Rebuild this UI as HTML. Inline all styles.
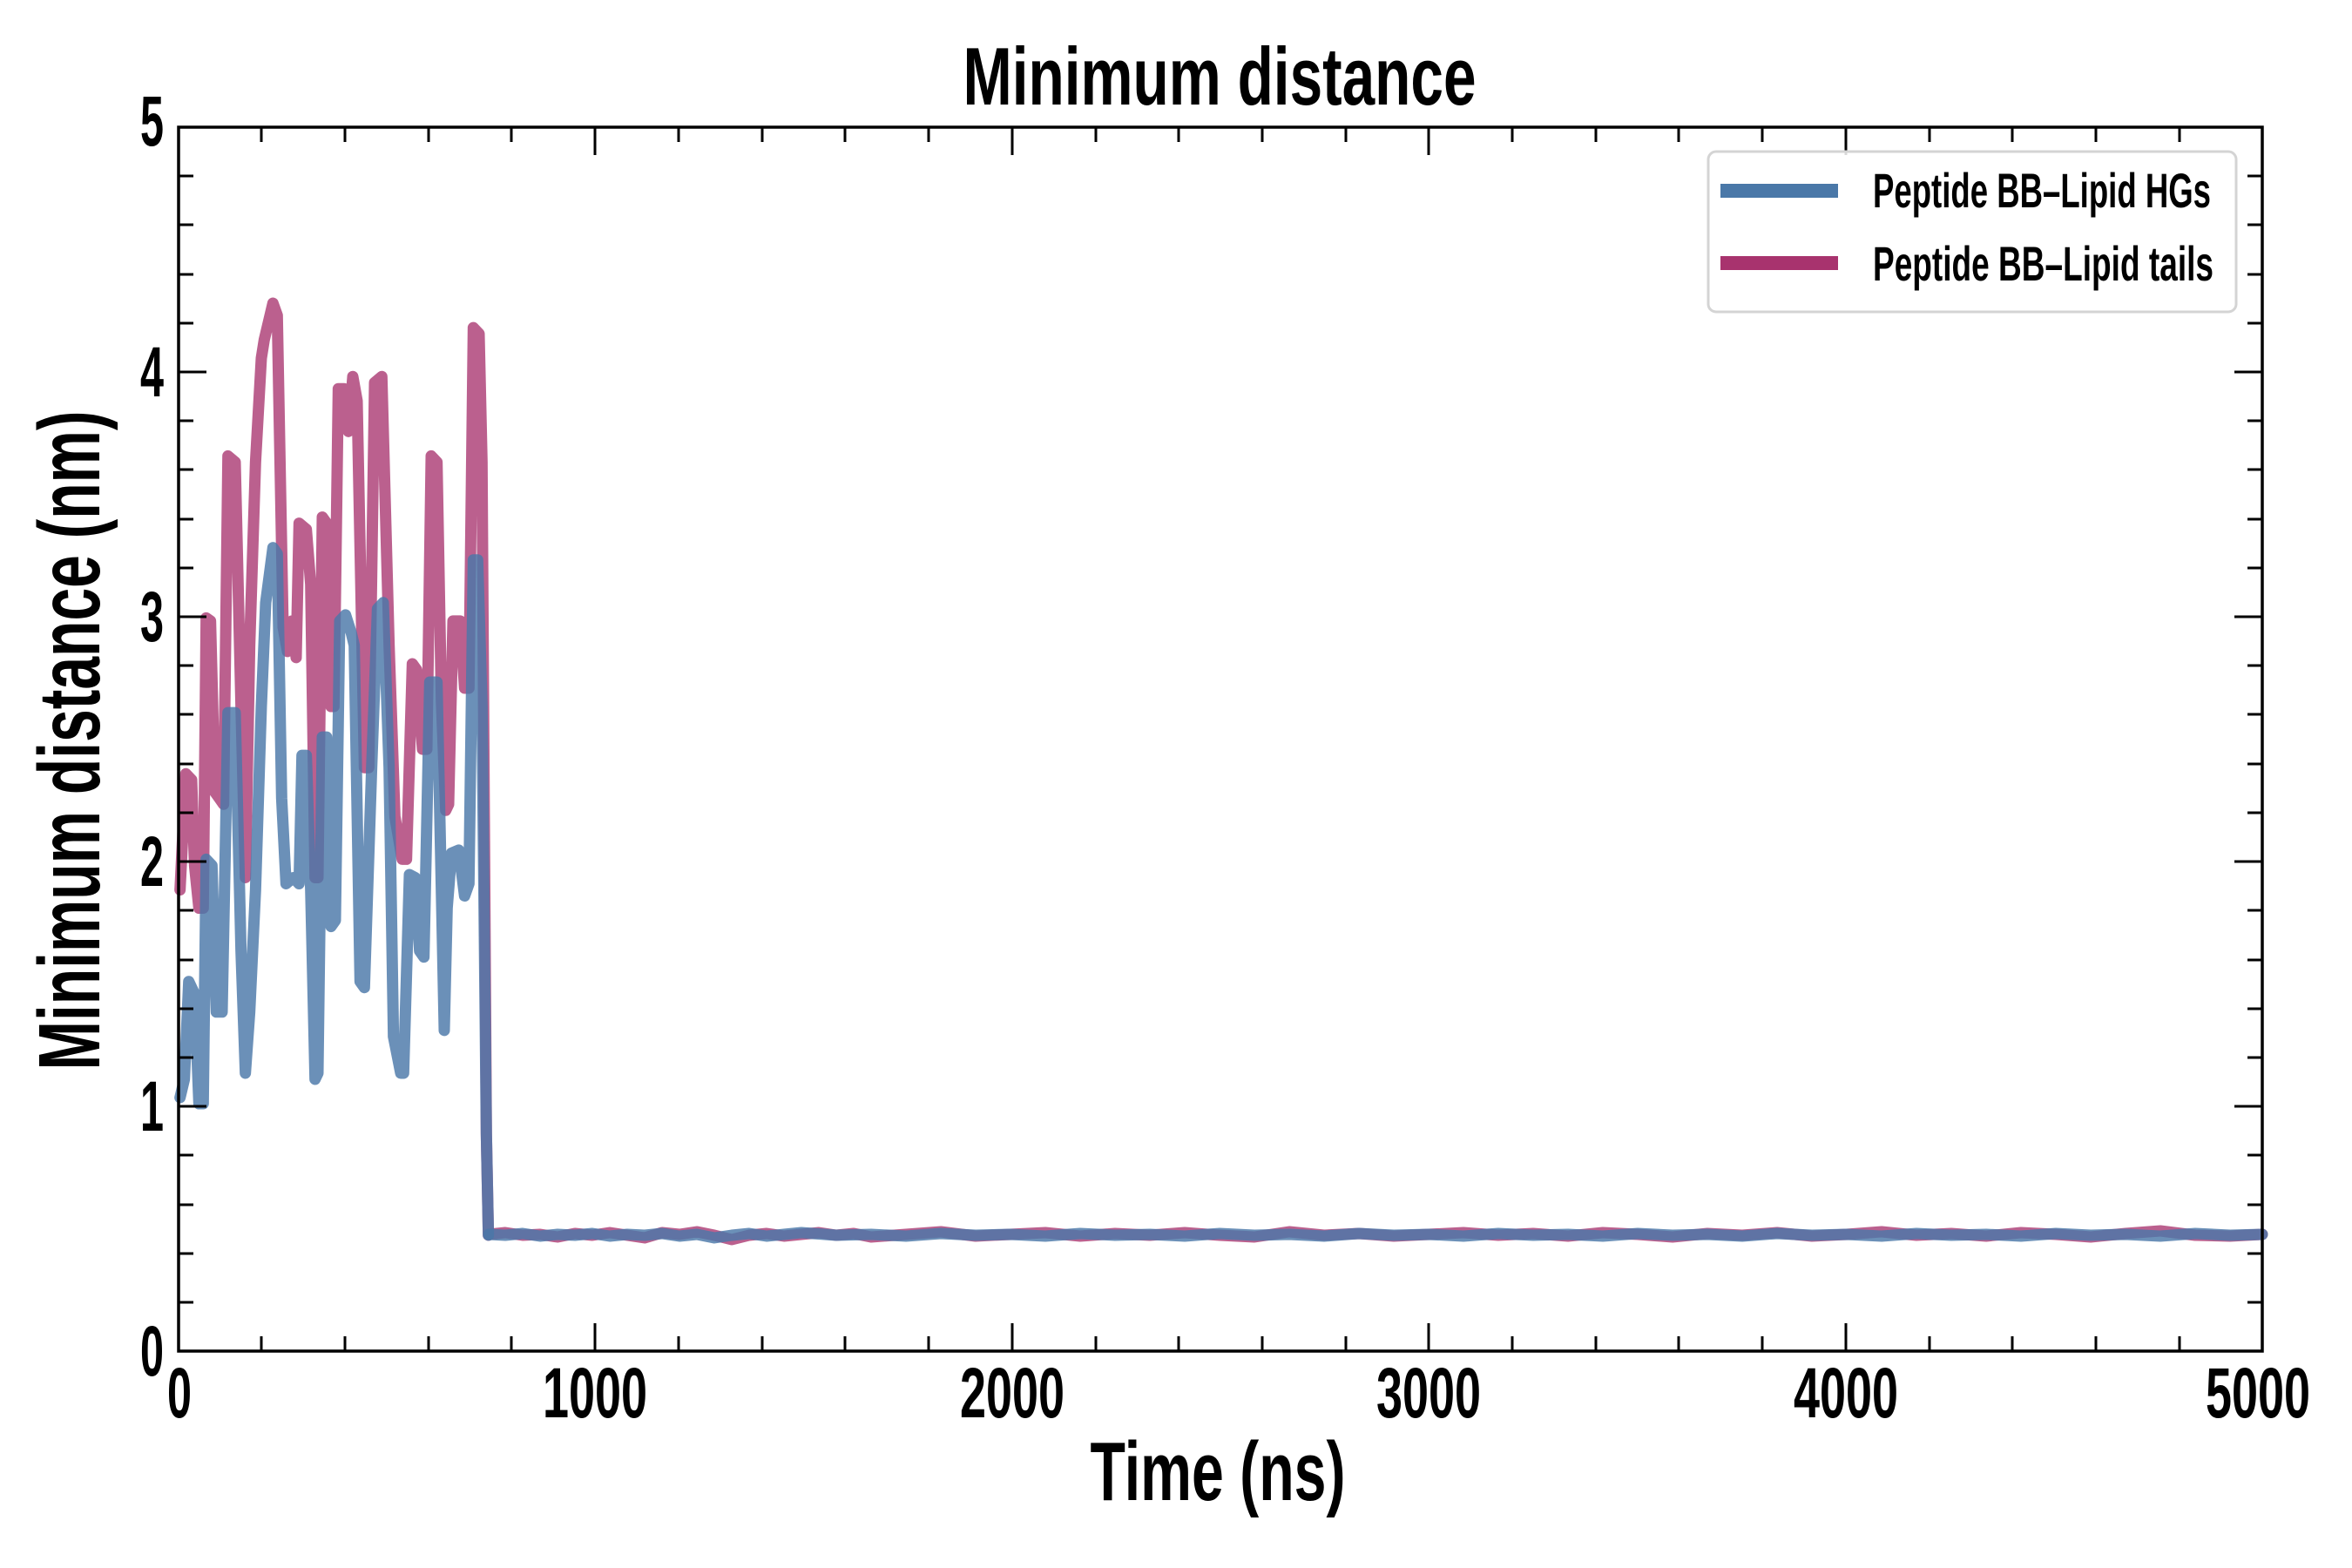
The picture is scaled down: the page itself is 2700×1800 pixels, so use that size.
<!DOCTYPE html>
<html><head><meta charset="utf-8"><style>
html,body{margin:0;padding:0;background:#fff;}
svg{display:block;}
text{font-family:"Liberation Sans",sans-serif;font-weight:bold;fill:#000;}
</style></head><body>
<svg width="2700" height="1800" viewBox="0 0 2700 1800" xmlns="http://www.w3.org/2000/svg">
<rect width="2700" height="1800" fill="#fff"/>
<text x="1400" y="120" font-size="94" text-anchor="middle" textLength="589" lengthAdjust="spacingAndGlyphs">Minimum distance</text>
<text x="1398" y="1722" font-size="96" text-anchor="middle" textLength="293" lengthAdjust="spacingAndGlyphs">Time (ns)</text>
<text transform="translate(114,850) rotate(-90)" x="0" y="0" font-size="100" text-anchor="middle" textLength="757" lengthAdjust="spacingAndGlyphs">Minimum distance (nm)</text>

<g font-size="82" text-anchor="middle">
<text x="206" y="1627" textLength="28" lengthAdjust="spacingAndGlyphs">0</text>
<text x="683" y="1627" textLength="120" lengthAdjust="spacingAndGlyphs">1000</text>
<text x="1162" y="1627" textLength="120" lengthAdjust="spacingAndGlyphs">2000</text>
<text x="1640" y="1627" textLength="120" lengthAdjust="spacingAndGlyphs">3000</text>
<text x="2119" y="1627" textLength="120" lengthAdjust="spacingAndGlyphs">4000</text>
<text x="2592" y="1627" textLength="120" lengthAdjust="spacingAndGlyphs">5000</text>
</g>
<g font-size="82" text-anchor="end">
<text x="188" y="1579" textLength="27" lengthAdjust="spacingAndGlyphs">0</text>
<text x="188" y="1298" textLength="27" lengthAdjust="spacingAndGlyphs">1</text>
<text x="188" y="1017" textLength="27" lengthAdjust="spacingAndGlyphs">2</text>
<text x="188" y="736" textLength="27" lengthAdjust="spacingAndGlyphs">3</text>
<text x="188" y="455" textLength="27" lengthAdjust="spacingAndGlyphs">4</text>
<text x="188" y="167" textLength="27" lengthAdjust="spacingAndGlyphs">5</text>
</g>

<g fill="none" stroke-linejoin="round" stroke-linecap="round">
<g transform="translate(200,320) scale(0.33333,0.7015)">
<polyline vector-effect="non-scaling-stroke" stroke="#a8336e" stroke-opacity="0.78" stroke-width="13" points="20,1000 40,810 60,820 70,960 85,1030 100,1030 110,555 125,560 140,840 155,850 170,860 185,290 210,300 230,700 245,980 260,600 280,300 300,130 310,100 340,40 355,60 375,570 390,610 405,560 420,620 430,400 455,410 470,500 485,980 495,980 510,390 525,400 540,700 550,700 565,180 585,180 600,250 615,160 630,200 655,800 670,800 690,170 715,160 740,600 760,880 785,950 800,950 820,630 835,640 855,770 870,770 885,290 905,300 920,690 935,870 945,860 960,560 985,560 1000,670 1015,670 1030,80 1050,90 1060,300 1075,1400 1082,1565"/>
</g>
<polyline stroke="#a8336e" stroke-opacity="0.78" stroke-width="13" points="561,1417 580,1415 600,1418 620,1417 640,1420 660,1416 680,1418 700,1415 720,1418 740,1421 760,1415 780,1417 800,1414 820,1418 840,1423 860,1418 880,1416 900,1419 920,1417 940,1415 960,1418 980,1416 1000,1420 1040,1417 1080,1414 1120,1419 1160,1417 1200,1415 1240,1419 1280,1416 1320,1418 1360,1415 1400,1418 1440,1420 1480,1414 1520,1418 1560,1416 1600,1419 1640,1417 1680,1415 1720,1418 1760,1416 1800,1419 1840,1415 1880,1417 1920,1420 1960,1416 2000,1418 2040,1415 2080,1419 2120,1417 2160,1414 2200,1418 2240,1416 2280,1419 2320,1415 2360,1417 2400,1420 2440,1416 2480,1413 2520,1418 2560,1419 2597,1417"/>
<g transform="translate(200,320) scale(0.33333,0.7015)">
<polyline vector-effect="non-scaling-stroke" stroke="#4a78a8" stroke-opacity="0.82" stroke-width="13" points="20,1340 35,1310 50,1150 70,1170 85,1350 100,1350 110,950 130,960 145,1200 165,1200 185,710 210,710 230,1100 245,1300 260,1200 280,1000 300,700 315,530 340,440 355,450 370,850 385,990 410,980 430,990 440,780 455,780 470,1000 485,1310 495,1300 510,750 525,750 540,1060 555,1050 570,560 590,550 610,580 620,600 640,1150 655,1160 680,800 700,540 720,530 740,800 755,1240 780,1300 790,1300 810,975 830,980 845,1100 860,1110 880,660 905,660 920,1000 930,1230 940,1030 955,940 980,935 1000,1010 1015,990 1030,460 1045,460 1060,700 1075,1400 1082,1565"/>
</g>
<polyline stroke="#4a78a8" stroke-opacity="0.82" stroke-width="13" points="561,1417 580,1418 600,1416 620,1419 640,1417 660,1418 680,1416 700,1419 720,1417 740,1418 760,1416 780,1419 800,1417 820,1421 840,1418 860,1416 880,1419 900,1417 920,1415 960,1418 1000,1417 1040,1419 1080,1416 1120,1418 1160,1417 1200,1419 1240,1416 1280,1418 1320,1417 1360,1419 1400,1416 1440,1418 1480,1417 1520,1419 1560,1416 1600,1418 1640,1417 1680,1419 1720,1416 1760,1418 1800,1417 1840,1419 1880,1416 1920,1418 1960,1417 2000,1419 2040,1416 2080,1418 2120,1417 2160,1419 2200,1416 2240,1418 2280,1417 2320,1419 2360,1416 2400,1418 2440,1417 2480,1419 2520,1416 2560,1418 2597,1417"/>
</g>

<g stroke="#000" stroke-width="3">
<path d="M683,1551v-32M1162,1551v-32M1640,1551v-32M2119,1551v-32M683,146v32M1162,146v32M1640,146v32M2119,146v32"/>
<path d="M300,1551v-17M396,1551v-17M492,1551v-17M587,1551v-17M779,1551v-17M875,1551v-17M970,1551v-17M1066,1551v-17M1258,1551v-17M1353,1551v-17M1449,1551v-17M1545,1551v-17M1736,1551v-17M1832,1551v-17M1927,1551v-17M2023,1551v-17M2215,1551v-17M2310,1551v-17M2406,1551v-17M2502,1551v-17
M300,146v17M396,146v17M492,146v17M587,146v17M779,146v17M875,146v17M970,146v17M1066,146v17M1258,146v17M1353,146v17M1449,146v17M1545,146v17M1736,146v17M1832,146v17M1927,146v17M2023,146v17M2215,146v17M2310,146v17M2406,146v17M2502,146v17"/>
<path d="M205,1270h32M205,989h32M205,708h32M205,427h32M2597,1270h-32M2597,989h-32M2597,708h-32M2597,427h-32"/>
<path d="M205,1495h17M205,1439h17M205,1383h17M205,1326h17M205,1214h17M205,1158h17M205,1102h17M205,1045h17M205,933h17M205,877h17M205,820h17M205,764h17M205,652h17M205,596h17M205,539h17M205,483h17M205,371h17M205,315h17M205,258h17M205,202h17
M2597,1495h-17M2597,1439h-17M2597,1383h-17M2597,1326h-17M2597,1214h-17M2597,1158h-17M2597,1102h-17M2597,1045h-17M2597,933h-17M2597,877h-17M2597,820h-17M2597,764h-17M2597,652h-17M2597,596h-17M2597,539h-17M2597,483h-17M2597,371h-17M2597,315h-17M2597,258h-17M2597,202h-17"/>
</g>
<rect x="205" y="146" width="2392" height="1405" fill="none" stroke="#000" stroke-width="3.5"/>

<rect x="1961" y="174" width="606" height="184" rx="9" fill="#fff" fill-opacity="0.85" stroke="#d4d4d4" stroke-width="3"/>
<rect x="1975" y="211" width="135" height="16" fill="#4a78a8"/>
<rect x="1975" y="294" width="135" height="16" fill="#a8336e"/>
<text x="2150" y="238" font-size="56" textLength="388" lengthAdjust="spacingAndGlyphs">Peptide BB–Lipid HGs</text>
<text x="2150" y="322" font-size="56" textLength="391" lengthAdjust="spacingAndGlyphs">Peptide BB–Lipid tails</text>
</svg>
</body></html>
